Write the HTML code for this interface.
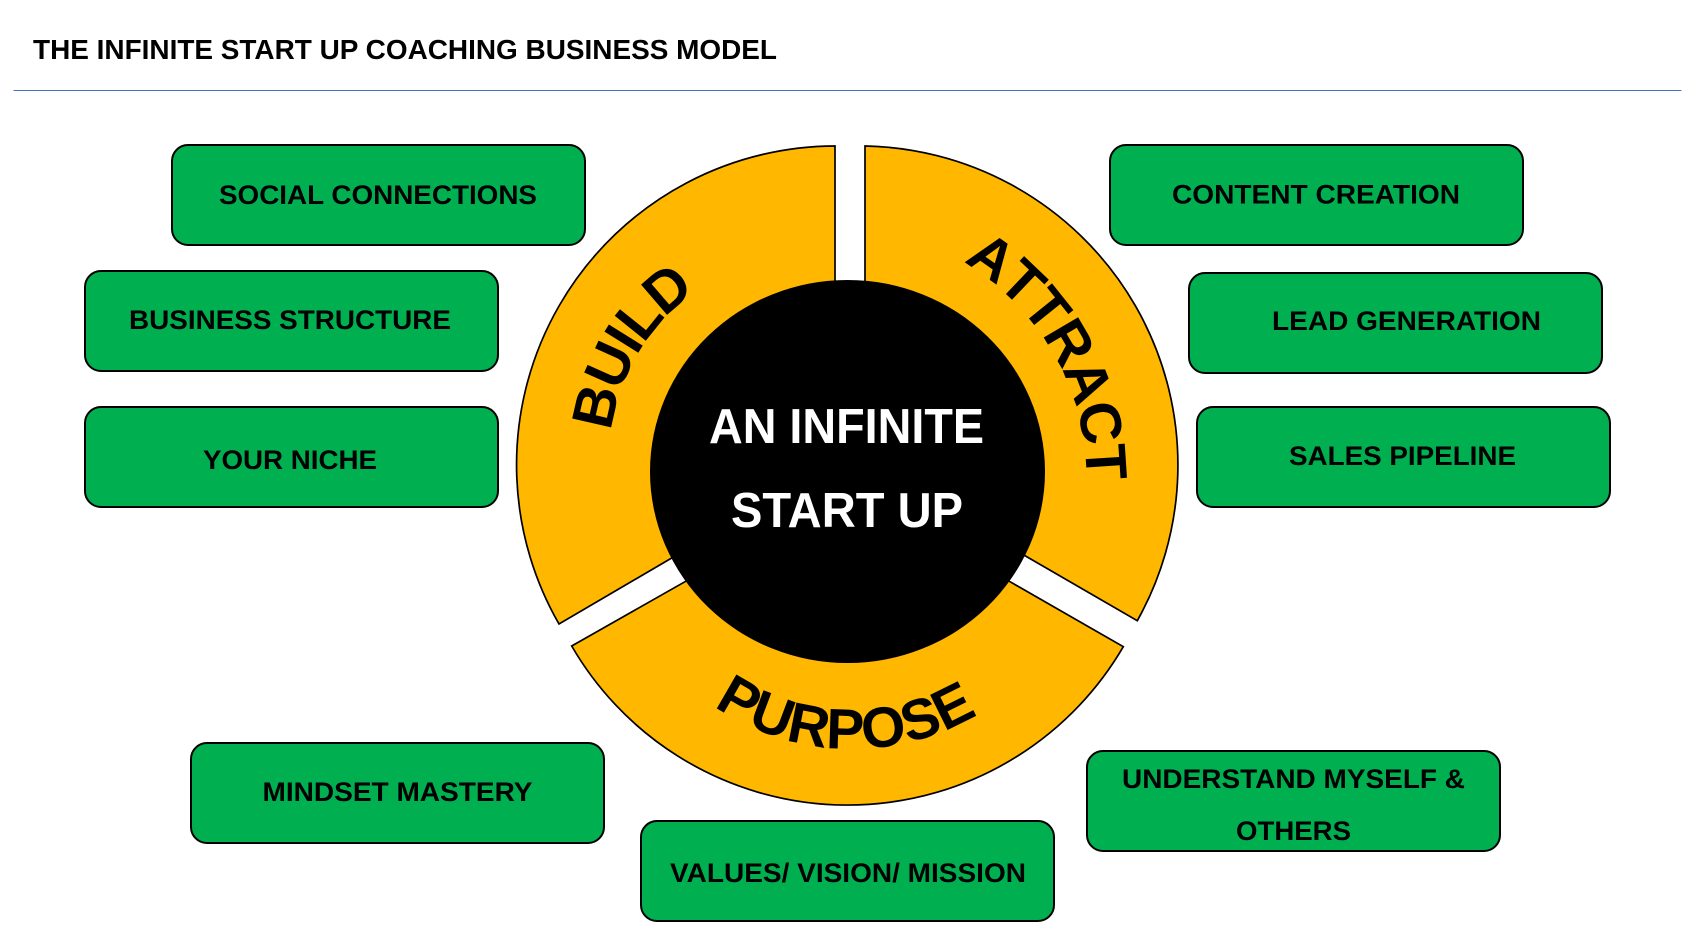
<!DOCTYPE html>
<html><head><meta charset="utf-8"><style>
html,body{margin:0;padding:0;background:#fff}
svg{display:block}
text{font-family:"Liberation Sans",Arial,sans-serif;font-weight:bold;fill:#000}
.b{fill:#00b050;stroke:#000;stroke-width:2}
.s{fill:#ffb700;stroke:#000;stroke-width:1.7;stroke-linejoin:miter}
.t{font-size:27px}
.c{font-size:58px;font-kerning:none}
</style></head><body>
<svg width="1698" height="946" viewBox="0 0 1698 946" xmlns="http://www.w3.org/2000/svg">
<rect width="1698" height="946" fill="#fff"/>
<text x="33" y="59" font-size="28" lengthAdjust="spacingAndGlyphs" textLength="744">THE INFINITE START UP COACHING BUSINESS MODEL</text>
<rect x="13.5" y="90" width="1668" height="1" fill="#4472c4"/>

<rect class="b" x="172" y="145" width="413" height="100" rx="16"/>
<rect class="b" x="85" y="271" width="413" height="100" rx="16"/>
<rect class="b" x="85" y="407" width="413" height="100" rx="16"/>
<rect class="b" x="1110" y="145" width="413" height="100" rx="16"/>
<rect class="b" x="1189" y="273" width="413" height="100" rx="16"/>
<rect class="b" x="1197" y="407" width="413" height="100" rx="16"/>
<rect class="b" x="191" y="743" width="413" height="100" rx="16"/>
<rect class="b" x="641" y="821" width="413" height="100" rx="16"/>
<rect class="b" x="1087" y="751" width="413" height="100" rx="16"/>

<text class="t" x="219" y="204" lengthAdjust="spacingAndGlyphs" textLength="318">SOCIAL CONNECTIONS</text>
<text class="t" x="129" y="329" lengthAdjust="spacingAndGlyphs" textLength="322">BUSINESS STRUCTURE</text>
<text class="t" x="203" y="469" lengthAdjust="spacingAndGlyphs" textLength="174">YOUR NICHE</text>
<text class="t" x="1172" y="203.5" lengthAdjust="spacingAndGlyphs" textLength="288">CONTENT CREATION</text>
<text class="t" x="1272" y="330" lengthAdjust="spacingAndGlyphs" textLength="269">LEAD GENERATION</text>
<text class="t" x="1289" y="465" lengthAdjust="spacingAndGlyphs" textLength="227">SALES PIPELINE</text>
<text class="t" x="262.5" y="801" lengthAdjust="spacingAndGlyphs" textLength="270">MINDSET MASTERY</text>
<text class="t" x="670" y="882" lengthAdjust="spacingAndGlyphs" textLength="356">VALUES/ VISION/ MISSION</text>
<text class="t" x="1122" y="788" lengthAdjust="spacingAndGlyphs" textLength="343">UNDERSTAND MYSELF &amp;</text>
<text class="t" x="1236" y="840" lengthAdjust="spacingAndGlyphs" textLength="115">OTHERS</text>

<path class="s" d="M835 146 A319 319 0 0 0 559 624 L705 538.5 L835 300 Z"/>
<path class="s" d="M865 146 A319 319 0 0 1 1137.3 620.7 L991 536 L865 300 Z"/>
<path class="s" d="M571.7 646 A319 319 0 0 0 1123.3 646.7 L1010 581.7 L975 560 L847 500 L720 560 L685 581.7 Z"/>

<ellipse cx="847.5" cy="471.5" rx="197.5" ry="191.5" fill="#000"/>

<path id="pb" fill="none" d="M610.2 441.2 A200 200 0 0 1 809.6 256"/>
<path id="pa" fill="none" d="M963 262 A252 252 0 0 1 1071.3 564.7"/>
<path id="pp" fill="none" d="M705 699.6 A245 245 0 0 0 1025.6 677.1"/>
<text class="c" letter-spacing="-2"><textPath href="#pb" startOffset="10">BUILD</textPath></text>
<text class="c" letter-spacing="-1.8"><textPath href="#pa" startOffset="0">ATTRACT</textPath></text>
<text class="c" font-size="57" style="font-size:57px"><textPath href="#pp" startOffset="11">PURPOSE</textPath></text>

<text x="709" y="443" font-size="49" lengthAdjust="spacingAndGlyphs" textLength="275" style="fill:#fff">AN INFINITE</text>
<text x="731" y="527" font-size="49" lengthAdjust="spacingAndGlyphs" textLength="232" style="fill:#fff">START UP</text>
</svg>
</body></html>
